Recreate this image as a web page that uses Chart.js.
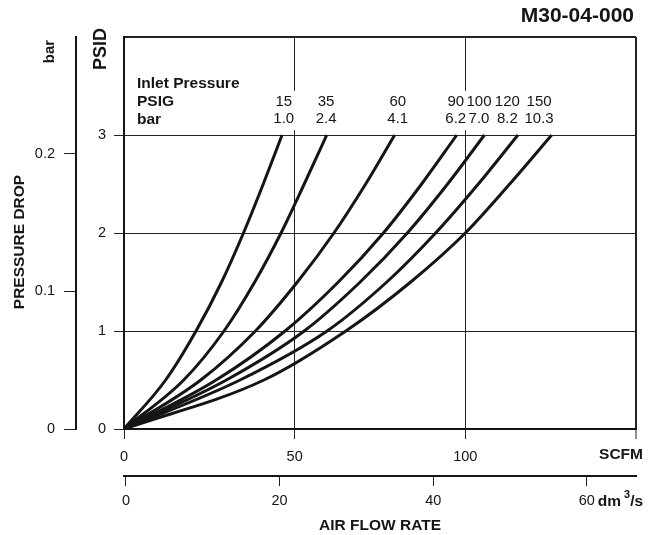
<!DOCTYPE html>
<html>
<head>
<meta charset="utf-8">
<script src="https://cdn.jsdelivr.net/npm/chart.js@4.4.1/dist/chart.umd.min.js"></script>
<style>
  html, body { margin: 0; padding: 0; background: #fff; }
</style>
</head>
<body>
<canvas id="chart" width="660" height="535"></canvas>
<script>
// Pressure drop levels (PSID) at which each curve was read
const psidLevels = [0, 0.5, 1, 1.5, 2, 2.5, 3]

// Air flow (SCFM) at those levels, one array per inlet pressure
const flow15 = [0, 12.2, 21.1, 28.6, 35, 40.8, 46.3]
const flow35 = [0, 17.5, 29.3, 38.3, 46, 52.8, 59.4]
const flow60 = [0, 22.5, 38.5, 50.8, 61.5, 70.8, 79.3]
const flow90 = [0, 27, 47.2, 62.8, 76, 87.2, 97.5]
const flow100 = [0, 30, 52.8, 69.2, 83, 94.8, 105.6]
const flow120 = [0, 34, 59.5, 77, 91.3, 103.8, 115.4]
const flow150 = [0, 41, 65, 84, 100, 113, 125.3]

const inletPsig = ["15", "35", "60", "90", "100", "120", "150"]
const inletBar = ["1.0", "2.4", "4.1", "6.2", "7.0", "8.2", "10.3"]

const scfmTicks = [0, 50, 100, 150]
const psidTicks = [0, 1, 2, 3, 4]
const barTicks = [0, 0.1, 0.2]
const dmTicks = [0, 20, 40, 60]

const FONT = '"Liberation Sans", Arial, Helvetica, sans-serif'
const INK = "#151515"

Chart.defaults.font.family = FONT
Chart.defaults.color = INK

const flows = [flow15, flow35, flow60, flow90, flow100, flow120, flow150]

// where the inlet labels sit, in SCFM
const labelAt = [46.8, 59.2, 80.2, 97.2, 104, 112.3, 121.6]

const datasets = flows.map((flow) => ({
  data: flow.map((f, i) => ({x: f, y: psidLevels[i]})),
  borderColor: INK,
  borderWidth: 3,
  pointRadius: 0,
  fill: false,
  cubicInterpolationMode: "monotone",
}))

/** @type {(list: number[]) => (scale: any) => void} */
const useTicks = (list) => (scale) => {
  scale.ticks = list.map((value) => ({value}))
}

const isTick = (c, v) => c.tick && c.tick.value === v

/** @type {(ctx: CanvasRenderingContext2D, text: string, x: number, y: number, font: string) => void} */
const upright = (ctx, text, x, y, font) => {
  ctx.save()
  ctx.translate(x, y)
  ctx.rotate(-Math.PI / 2)
  ctx.font = font
  ctx.textAlign = "center"
  ctx.fillText(text, 0, 0)
  ctx.restore()
}

const annotate = {
  id: "annotate",
  afterDatasetsDraw(chart) {
    const {ctx, chartArea} = chart
    const {x, y, bar, dm} = chart.scales
    ctx.save()

    // white band behind the inlet pressure figures
    const bandTop = y.getPixelForValue(3.45)
    const bandBottom = y.getPixelForValue(3.05)
    ctx.fillStyle = "#fff"
    ctx.fillRect(chartArea.left + 4, bandTop, x.getPixelForValue(128) - chartArea.left - 4, bandBottom - bandTop)

    ctx.fillStyle = INK
    ctx.textBaseline = "middle"
    ctx.textAlign = "left"
    ctx.font = `bold 15.5px ${FONT}`
    const rowHead = y.getPixelForValue(3.52)
    const rowPsig = y.getPixelForValue(3.335)
    const rowBar = y.getPixelForValue(3.16)
    ctx.fillText("Inlet Pressure", chartArea.left + 13, rowHead)
    ctx.fillText("PSIG", chartArea.left + 13, rowPsig)
    ctx.fillText("bar", chartArea.left + 13, rowBar)

    ctx.font = `15px ${FONT}`
    ctx.textAlign = "center"
    inletPsig.forEach((label, i) => {
      const cx = x.getPixelForValue(labelAt[i])
      ctx.fillText(label, cx, rowPsig)
      ctx.fillText(inletBar[i], cx, rowBar)
    })

    // unit names on the axes
    ctx.font = `bold 15.5px ${FONT}`
    ctx.textAlign = "right"
    ctx.fillText("SCFM", chartArea.right + 7, x.top + 26)

    ctx.textAlign = "left"
    let ux = dm.getPixelForValue(60) + 11
    const uy = dm.top + 26
    ctx.fillText("dm", ux, uy)
    ux += ctx.measureText("dm").width + 3
    ctx.font = `bold 11px ${FONT}`
    ctx.fillText("3", ux, uy - 7)
    ux += ctx.measureText("3").width
    ctx.font = `bold 15.5px ${FONT}`
    ctx.fillText("/s", ux, uy)

    ctx.font = `bold 21px ${FONT}`
    ctx.textAlign = "right"
    ctx.fillText("M30-04-000", chartArea.right - 2, 16)

    // rotated titles on the left
    upright(ctx, "PSID", y.left + 25, chartArea.top + 12, `bold 18px ${FONT}`)
    upright(ctx, "bar", bar.left + 50, chartArea.top + 14.5, `bold 15px ${FONT}`)
    upright(ctx, "PRESSURE DROP", bar.left + 20, (chartArea.top + chartArea.bottom) / 2 + 9, `bold 15.5px ${FONT}`)

    ctx.restore()
  },
}

new Chart(document.getElementById("chart"), {
  type: "line",
  data: {datasets},
  options: {
    responsive: false,
    animation: false,
    layout: {padding: {left: 0, right: 24, top: 37, bottom: 0}},
    plugins: {legend: {display: false}, tooltip: {enabled: false}},
    scales: {
      x: {
        type: "linear",
        position: "bottom",
        min: 0,
        max: 150,
        afterBuildTicks: useTicks(scfmTicks),
        afterFit: (s) => { s.height = 47 },
        ticks: {
          callback: (v) => (v === 150 ? "" : String(v)),
          font: {size: 14.5},
          padding: 9,
          maxRotation: 0,
          autoSkip: false,
        },
        grid: {
          color: "#222",
          lineWidth: (c) => (isTick(c, 150) ? 2 : 1),
          tickLength: 10,
          tickWidth: 1,
          tickColor: "#222",
        },
        border: {display: true, width: 2, color: INK},
      },
      dm: {
        type: "linear",
        position: "bottom",
        min: -0.26,
        max: 66.4,
        afterBuildTicks: useTicks(dmTicks),
        afterFit: (s) => { s.height = 59 },
        ticks: {font: {size: 14.5}, padding: 6, maxRotation: 0, autoSkip: false},
        grid: {drawOnChartArea: false, tickLength: 10, color: "#222", lineWidth: 1},
        border: {display: true, width: 2, color: INK},
        title: {
          display: true,
          text: "AIR FLOW RATE",
          font: {size: 15.5, weight: "bold"},
          padding: {top: 0, bottom: 0},
        },
      },
      y: {
        type: "linear",
        position: "left",
        min: 0,
        max: 4,
        afterBuildTicks: useTicks(psidTicks),
        afterFit: (s) => { s.width = 48 },
        ticks: {
          callback: (v) => (v === 4 ? "" : String(v)),
          font: {size: 14.5},
          padding: 8,
        },
        grid: {
          color: "#222",
          lineWidth: (c) => (isTick(c, 4) ? 2 : 1),
          tickLength: 10,
          tickWidth: 1,
          tickColor: (c) => (isTick(c, 4) ? "rgba(0,0,0,0)" : "#222"),
        },
        border: {display: true, width: 2, color: INK},
      },
      bar: {
        type: "linear",
        position: "left",
        min: 0,
        max: 0.285,
        afterBuildTicks: useTicks(barTicks),
        afterFit: (s) => { s.width = 76 },
        ticks: {
          callback: (v) => (v === 0 ? "0" : v.toFixed(1)),
          font: {size: 14.5},
          padding: 9,
        },
        grid: {drawOnChartArea: false, tickLength: 12, color: "#222", lineWidth: 1},
        border: {display: true, width: 2, color: INK},
      },
    },
  },
  plugins: [annotate],
})
</script>
</body>
</html>
